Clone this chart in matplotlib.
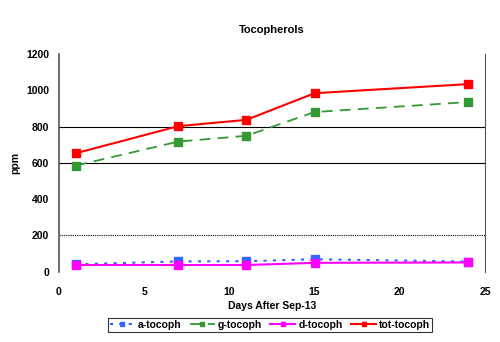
import matplotlib
matplotlib.use('Agg')
import matplotlib.pyplot as plt

# readings (ppm) by days after Sep-13
days = [1, 7, 11, 15, 24]
a_tocoph = [40, 56, 57, 68, 55]
g_tocoph = [585, 717, 749, 880, 935]
d_tocoph = [36, 36, 36, 48, 50]
tot_tocoph = [653, 802, 837, 984, 1034]

y_ticks = [0, 200, 400, 600, 800, 1000, 1200]
x_ticks = [0, 5, 10, 15, 20, 25]

plt.rcParams['font.family'] = ['Liberation Sans', 'DejaVu Sans']
plt.rcParams['font.weight'] = 'bold'

fig = plt.figure(figsize=(5, 3.42), dpi=100)
ax = fig.add_axes([0.118, 0.206, 0.852, 0.636])

# Excel-style horizontal gridlines (only some show in the original)
ax.axhline(200, color='black', lw=0.8, ls=(0, (1, 1)), zorder=1)
ax.axhline(600, color='black', lw=0.8, zorder=1)
ax.axhline(800, color='black', lw=0.8, zorder=1)

ax.plot(days, a_tocoph, color='#3366ff', ls=(0, (1.5, 3)), lw=1.5, marker='s',
        ms=6, label='a-tocoph', zorder=3)
ax.plot(days, g_tocoph, color='#339933', ls=(0, (6, 4)), lw=1.3, marker='s',
        ms=6, label='g-tocoph', zorder=3)
ax.plot(days, d_tocoph, color='#ff00ff', lw=1.5, marker='s',
        ms=6, label='d-tocoph', zorder=4)
ax.plot(days, tot_tocoph, color='#ff0000', lw=1.5, marker='s',
        ms=6, label='tot-tocoph', zorder=4)

ax.set_xlim(0, 25)
ax.set_ylim(0, 1200)
ax.set_xticks(x_ticks)
ax.set_yticks(y_ticks)
ax.tick_params(labelsize=7.5, length=0)
ax.tick_params(axis='x', pad=11)
ax.tick_params(axis='y', pad=7)
for lbl in ax.get_xticklabels() + ax.get_yticklabels():
    lbl.set_fontweight('bold')

ax.spines['top'].set_visible(False)
ax.spines['bottom'].set_visible(False)
ax.spines['left'].set_color('#555555')
ax.spines['left'].set_linewidth(1.2)
ax.spines['right'].set_color('#555555')
ax.spines['right'].set_linestyle((0, (1, 1)))

ax.set_title('Tocopherols', fontsize=8, fontweight='bold', pad=15)
ax.set_xlabel('Days After Sep-13', fontsize=7.5, fontweight='bold', labelpad=3)
ax.set_ylabel('ppm', fontsize=7.5, fontweight='bold', labelpad=4)

leg = fig.legend(loc='center', bbox_to_anchor=(0.54, 0.05), ncol=4, fontsize=7.5,
                 frameon=True, fancybox=False, edgecolor='black', handlelength=2.4,
                 handletextpad=0.3, columnspacing=0.8, markerscale=0.6,
                 borderpad=0.2)
leg.get_frame().set_linewidth(0.8)
for t in leg.get_texts():
    t.set_fontweight('bold')

fig.savefig('out.png', dpi=100)
